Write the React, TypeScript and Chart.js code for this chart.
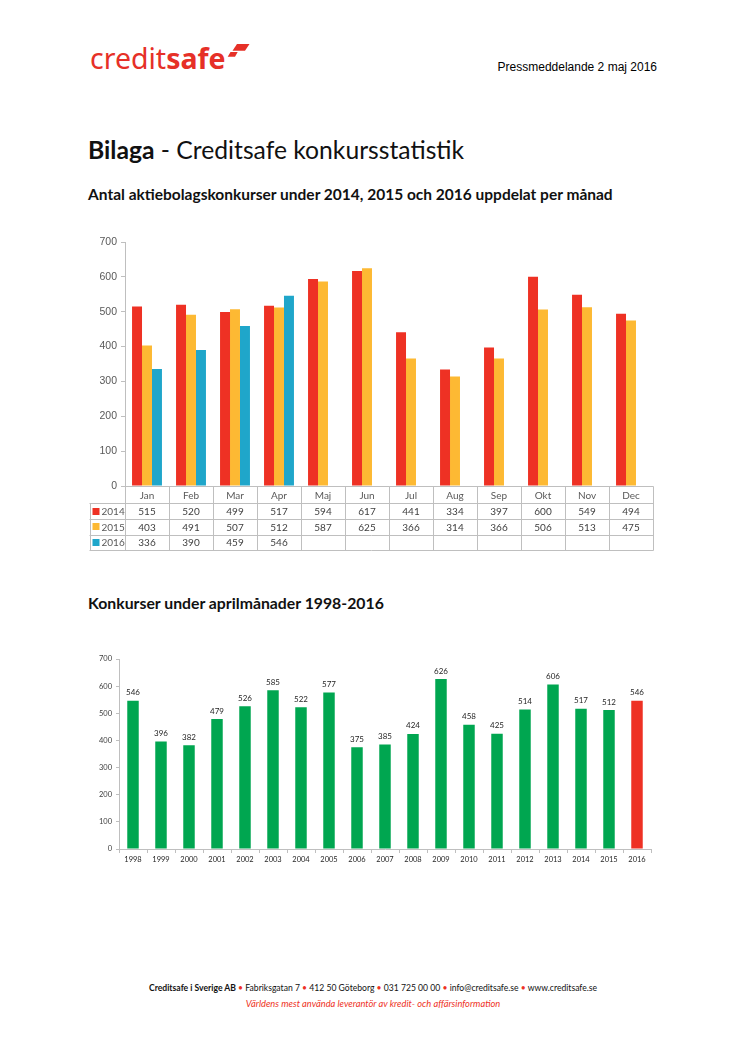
import React, { useEffect, useRef } from "react";
import { Chart, registerables } from "chart.js";

Chart.register(...registerables);

// ---------- data ----------
const months = ["Jan", "Feb", "Mar", "Apr", "Maj", "Jun", "Jul", "Aug", "Sep", "Okt", "Nov", "Dec"];
const values2014 = [515, 520, 499, 517, 594, 617, 441, 334, 397, 600, 549, 494];
const values2015 = [403, 491, 507, 512, 587, 625, 366, 314, 366, 506, 513, 475];
const values2016: (number | null)[] = [336, 390, 459, 546, null, null, null, null, null, null, null, null];
const seriesLabels = ["2014", "2015", "2016"];
const monthlyMax = 700;
const monthlyStep = 100;

const aprilYears = ["1998", "1999", "2000", "2001", "2002", "2003", "2004", "2005", "2006", "2007", "2008", "2009", "2010", "2011", "2012", "2013", "2014", "2015", "2016"];
const aprilValues = [546, 396, 382, 479, 526, 585, 522, 577, 375, 385, 424, 626, 458, 425, 514, 606, 517, 512, 546];
const highlightYear = "2016";
const aprilMax = 700;
const aprilStep = 100;

// ---------- styles ----------
const RED = "#EE3124";
const YELLOW = "#FDB933";
const BLUE = "#1FA6CA";
const GREEN = "#00A650";
const GRID = "#BFBFBF";
const BRAND = "#E63027";

function MonthlyChart() {
  const ref = useRef<HTMLCanvasElement>(null);
  useEffect(() => {
    const canvas = ref.current!;
    const seriesValues = [values2014, values2015, values2016];
    const colors = [RED, YELLOW, BLUE];
    const tablePlugin = {
      id: "dataTable",
      afterDraw(chart: any) {
        const { ctx, chartArea } = chart;
        const x = chart.scales.x;
        const n = months.length;
        const colW = (chartArea.right - chartArea.left) / n;
        const y0 = chartArea.bottom;
        const rows = [y0, y0 + 17, y0 + 33, y0 + 48.5, y0 + 64];
        const legendLeft = 89.5;
        const px = (v: number) => Math.round(v) + 0.5;
        ctx.save();
        ctx.strokeStyle = GRID;
        ctx.lineWidth = 1;
        ctx.beginPath();
        ctx.moveTo(chartArea.left, px(rows[0]));
        ctx.lineTo(chartArea.right + 0.5, px(rows[0]));
        for (let r = 1; r < rows.length; r++) {
          ctx.moveTo(legendLeft, px(rows[r]));
          ctx.lineTo(chartArea.right + 0.5, px(rows[r]));
        }
        ctx.moveTo(px(legendLeft), px(rows[1]));
        ctx.lineTo(px(legendLeft), px(rows[4]));
        for (let i = 0; i <= n; i++) {
          const xx = px(chartArea.left + i * colW);
          ctx.moveTo(xx, px(rows[0]));
          ctx.lineTo(xx, px(rows[4]));
        }
        ctx.stroke();

        ctx.textAlign = "center";
        ctx.textBaseline = "middle";
        ctx.font = "10px Lato";
        ctx.fillStyle = "#595959";
        months.forEach((m, i) => {
          ctx.fillText(m, x.getPixelForValue(i), (rows[0] + rows[1]) / 2 + 1);
        });
        ctx.fillStyle = "#404040";
        seriesValues.forEach((vals, s) => {
          const cy = (rows[s + 1] + rows[s + 2]) / 2 + 1;
          vals.forEach((v, i) => {
            if (v !== null && v !== undefined) ctx.fillText(String(v), x.getPixelForValue(i), cy);
          });
        });
        ctx.textAlign = "left";
        seriesLabels.forEach((lab, s) => {
          const cy = (rows[s + 1] + rows[s + 2]) / 2;
          ctx.fillStyle = colors[s];
          ctx.fillRect(legendLeft + 3, Math.round(cy - 3.5), 7, 7);
          ctx.fillStyle = "#595959";
          ctx.fillText(lab, legendLeft + 12, cy + 1);
        });
        ctx.restore();
      },
    };

    const chart = new Chart(canvas, {
      type: "bar",
      data: {
        labels: months,
        datasets: seriesValues.map((vals, s) => ({
          label: seriesLabels[s],
          data: vals,
          backgroundColor: colors[s],
          borderWidth: 0,
        })),
      },
      options: {
        animation: false,
        responsive: false,
        maintainAspectRatio: false,
        layout: { padding: { left: 0, right: 93, top: 12, bottom: 74 } },
        plugins: { legend: { display: false }, tooltip: { enabled: false } },
        datasets: { bar: { categoryPercentage: 0.68, barPercentage: 1 } },
        scales: {
          x: { display: false },
          y: {
            min: 0,
            max: monthlyMax,
            ticks: { stepSize: monthlyStep, font: { family: "Liberation Sans", size: 10.5 }, color: "#595959", padding: 4 },
            grid: { drawOnChartArea: false, tickLength: 4, color: GRID },
            border: { color: GRID },
            afterFit: (s: any) => {
              s.width = 125;
            },
          },
        },
      } as any,
      plugins: [tablePlugin],
    });
    return () => chart.destroy();
  }, []);
  return <canvas ref={ref} width={746} height={330} style={{ position: "absolute", left: 0, top: 230, width: 746, height: 330 }} />;
}

function AprilChart() {
  const ref = useRef<HTMLCanvasElement>(null);
  useEffect(() => {
    const canvas = ref.current!;
    const labelPlugin = {
      id: "barLabels",
      afterDatasetsDraw(chart: any) {
        const { ctx } = chart;
        const meta = chart.getDatasetMeta(0);
        ctx.save();
        ctx.font = "8px Lato";
        ctx.fillStyle = "#262626";
        ctx.textAlign = "center";
        ctx.textBaseline = "bottom";
        meta.data.forEach((el: any, i: number) => {
          ctx.fillText(String(aprilValues[i]), el.x, el.y - 4);
        });
        ctx.restore();
      },
    };
    const chart = new Chart(canvas, {
      type: "bar",
      data: {
        labels: aprilYears,
        datasets: [
          {
            data: aprilValues,
            backgroundColor: aprilYears.map((y) => (y === highlightYear ? RED : GREEN)),
            borderWidth: 0,
          },
        ],
      },
      options: {
        animation: false,
        responsive: false,
        maintainAspectRatio: false,
        layout: { padding: { left: 0, right: 95, top: 29, bottom: 0 } },
        plugins: { legend: { display: false }, tooltip: { enabled: false } },
        datasets: { bar: { categoryPercentage: 1, barPercentage: 0.41 } },
        scales: {
          x: {
            grid: { drawOnChartArea: false, tickLength: 4, color: GRID, offset: true },
            border: { color: GRID },
            ticks: { font: { family: "Lato", size: 7.5 }, color: "#262626", padding: 2, maxRotation: 0, autoSkip: false },
            afterFit: (s: any) => {
              s.height = 31;
            },
          },
          y: {
            min: 0,
            max: aprilMax,
            ticks: { stepSize: aprilStep, font: { family: "Lato", size: 7.5 }, color: "#404040", padding: 4 },
            grid: { drawOnChartArea: false, tickLength: 3, color: GRID },
            border: { color: GRID },
            afterFit: (s: any) => {
              s.width = 119;
            },
          },
        },
      } as any,
      plugins: [labelPlugin],
    });
    return () => chart.destroy();
  }, []);
  return <canvas ref={ref} width={746} height={250} style={{ position: "absolute", left: 0, top: 630, width: 746, height: 250 }} />;
}

function Logo() {
  return (
    <>
      <div
        style={{
          position: "absolute",
          left: 90,
          top: 44,
          fontFamily: "'Noto Sans'",
          fontSize: 28.5,
          lineHeight: "28.5px",
          color: BRAND,
          whiteSpace: "nowrap",
        }}
      >
        <span style={{ fontWeight: 400 }}>credit</span>
        <span style={{ fontWeight: 700 }}>safe</span>
      </div>
      <svg style={{ position: "absolute", left: 226, top: 43 }} width={26} height={16} viewBox="0 0 26 16">
        <polygon points="11,1 23.5,1 19,7.7 6.5,7.7" fill={BRAND} />
        <polygon points="4.5,9 11.7,9 9,13.7 1.7,13.7" fill={BRAND} />
      </svg>
    </>
  );
}

const abs = (left: number, top: number, extra: React.CSSProperties = {}): React.CSSProperties => ({
  position: "absolute",
  left,
  top,
  whiteSpace: "nowrap",
  lineHeight: 1,
  ...extra,
});

export default function App() {
  const bullet = <span style={{ color: RED }}> • </span>;
  return (
    <div style={{ position: "absolute", left: 0, top: 0, width: 746, height: 1056, background: "#fff", overflow: "hidden", fontFamily: "Lato" }}>
      <Logo />
      <div style={abs(0, 61, { right: 89, left: "auto", fontFamily: "'Liberation Sans'", fontSize: 12, color: "#000" } as any)}>
        Pressmeddelande 2 maj 2016
      </div>
      <div style={abs(88, 138, { fontSize: 24.7, color: "#111" })}>
        <b>Bilaga</b> - Creditsafe konkursstatistik
      </div>
      <div style={abs(88, 187, { fontSize: 15.5, fontWeight: 700, color: "#111" })}>
        Antal aktiebolagskonkurser under 2014, 2015 och 2016 uppdelat per månad
      </div>
      <MonthlyChart />
      <div style={abs(88, 595, { fontSize: 15.8, fontWeight: 700, color: "#111" })}>Konkurser under aprilmånader 1998-2016</div>
      <AprilChart />
      <div style={abs(0, 984, { width: 746, textAlign: "center", fontSize: 8.6, color: "#111" })}>
        <b>Creditsafe i Sverige AB</b>
        {bullet}Fabriksgatan 7{bullet}412 50 Göteborg{bullet}031 725 00 00{bullet}info@creditsafe.se{bullet}www.creditsafe.se
      </div>
      <div style={abs(0, 999, { width: 746, textAlign: "center", fontSize: 9.3, color: RED, fontStyle: "italic" })}>
        Världens mest använda leverantör av kredit- och affärsinformation
      </div>
    </div>
  );
}
